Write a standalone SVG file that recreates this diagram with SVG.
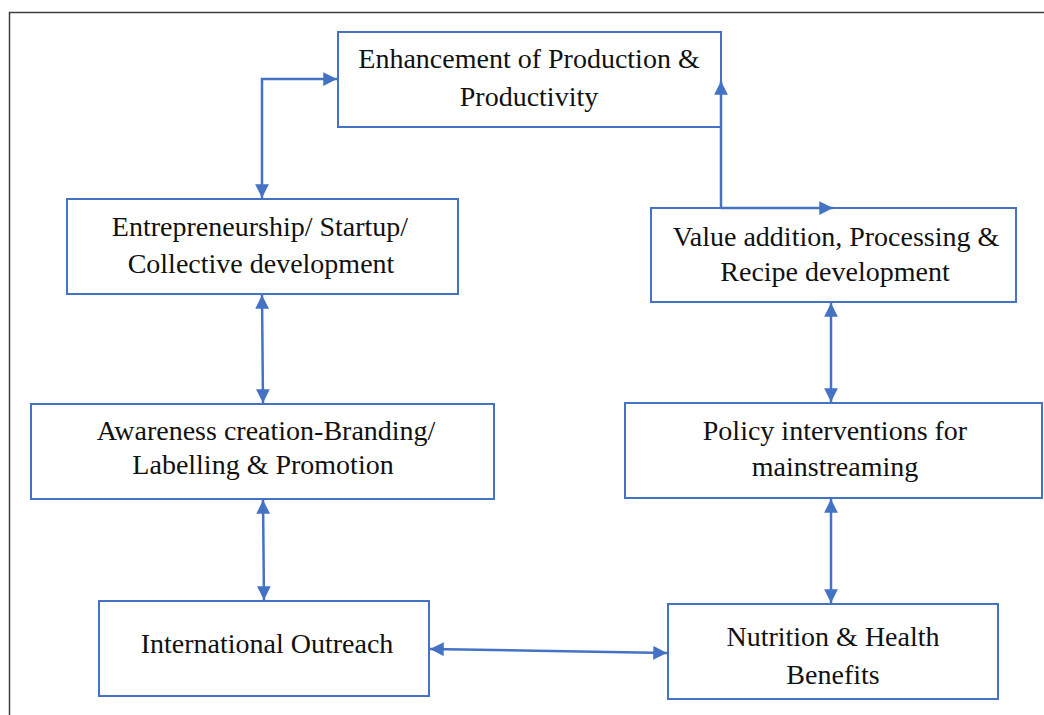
<svg xmlns="http://www.w3.org/2000/svg" width="1044" height="715" viewBox="0 0 1044 715">
<defs>
<marker id="ah" viewBox="0 0 10 10" refX="10" refY="5" markerWidth="5.5" markerHeight="5.5" orient="auto-start-reverse" markerUnits="strokeWidth">
<path d="M0,0 L10,5 L0,10 z" fill="#4472C4"/>
</marker>
<style>
.box{fill:#fff;stroke:#4472C4;stroke-width:2}
.t{font-family:"Liberation Serif","Times New Roman",serif;font-size:28px;fill:#111;text-anchor:middle}
.c{fill:none;stroke:#4472C4;stroke-width:2.5}
</style>
</defs>
<rect width="1044" height="715" fill="#fff"/>
<path d="M9.5,715 L9.5,12.5 L1044,12.5" fill="none" stroke="#404040" stroke-width="1.5"/>

<g id="n-enhancement">
<rect class="box" x="338" y="32" width="383" height="95"/>
<text class="t" x="529" y="68">Enhancement of Production &amp;</text>
<text class="t" x="529" y="106">Productivity</text>
</g>
<g id="n-entrepreneurship">
<rect class="box" x="67" y="199" width="391" height="95"/>
<text class="t" x="260" y="236">Entrepreneurship/ Startup/</text>
<text class="t" x="261" y="273">Collective development</text>
</g>
<g id="n-value">
<rect class="box" x="651" y="208" width="365" height="94"/>
<text class="t" x="836" y="246">Value addition, Processing &amp;</text>
<text class="t" x="835" y="281">Recipe development</text>
</g>
<g id="n-awareness">
<rect class="box" x="31" y="404" width="463" height="95"/>
<text class="t" x="266" y="440">Awareness creation-Branding/</text>
<text class="t" x="263" y="474">Labelling &amp; Promotion</text>
</g>
<g id="n-policy">
<rect class="box" x="625" y="403" width="417" height="95"/>
<text class="t" x="835" y="440">Policy interventions for</text>
<text class="t" x="835" y="476">mainstreaming</text>
</g>
<g id="n-international">
<rect class="box" x="99" y="601" width="330" height="95"/>
<text class="t" x="267" y="653">International Outreach</text>
</g>
<g id="n-nutrition">
<rect class="box" x="668" y="604" width="330" height="95"/>
<text class="t" x="833" y="646">Nutrition &amp; Health</text>
<text class="t" x="833" y="684">Benefits</text>
</g>

<g id="connectors">
<path class="c" d="M337,79 L262,79 L262,198" marker-start="url(#ah)" marker-end="url(#ah)"/>
<path class="c" d="M721,208 L721,81" marker-end="url(#ah)"/>
<path class="c" d="M721,208 L833,208" marker-end="url(#ah)"/>
<path class="c" d="M262,295 L263,403" marker-start="url(#ah)" marker-end="url(#ah)"/>
<path class="c" d="M263,500 L264,600" marker-start="url(#ah)" marker-end="url(#ah)"/>
<path class="c" d="M430,649 L667,653" marker-start="url(#ah)" marker-end="url(#ah)"/>
<path class="c" d="M831,303 L831,402" marker-start="url(#ah)" marker-end="url(#ah)"/>
<path class="c" d="M831,499 L831,603" marker-start="url(#ah)" marker-end="url(#ah)"/>
</g>
</svg>
